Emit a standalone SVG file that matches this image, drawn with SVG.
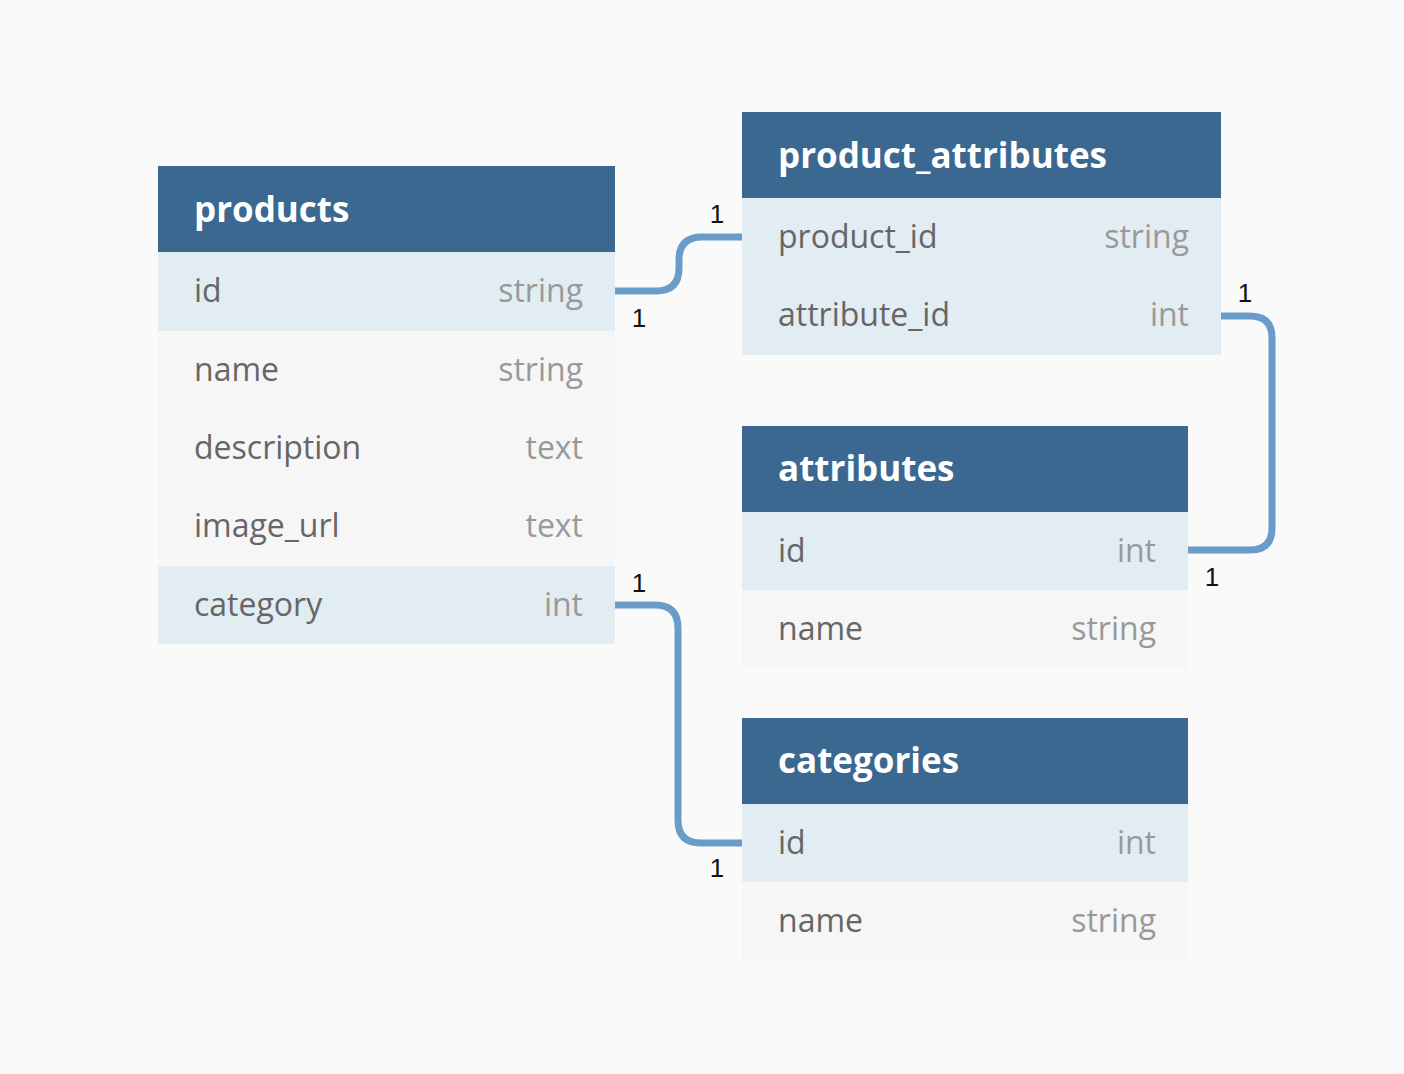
<svg xmlns="http://www.w3.org/2000/svg" width="1404" height="1074" viewBox="0 0 1404 1074">
<style>
.hdr{fill:#3a6891}
.hl{fill:#e1ecf3}
.pl{fill:#f6f6f6}
.ht{font-family:"Open Sans",sans-serif;font-weight:bold;font-size:35px;fill:#ffffff}
.fn{font-family:"Open Sans",sans-serif;font-size:32px;fill:#666666}
.ft{font-family:"Open Sans",sans-serif;font-size:32px;fill:#999999;text-anchor:end}
.conn{fill:none;stroke:#6a9cc9;stroke-width:7}
.card{font-family:"Liberation Sans",Arial,sans-serif;font-size:26px;fill:#111111;text-anchor:middle}
</style>
<rect x="0" y="0" width="1404" height="1074" fill="#fafafa"/>
<g id="connectors">
<path class="conn" d="M615 291 H656 Q679 291 679 268 V260 Q679 237 702 237 H742"/>
<path class="conn" d="M1221 316 H1250 Q1272 316 1272 338 V528 Q1272 550 1250 550 H1188"/>
<path class="conn" d="M615 605 H655 Q678 605 678 628 V820 Q678 843 701 843 H742"/>
<text class="card" x="717" y="223">1</text>
<text class="card" x="639" y="327">1</text>
<text class="card" x="1245" y="302">1</text>
<text class="card" x="1212" y="586">1</text>
<text class="card" x="639" y="592">1</text>
<text class="card" x="717" y="877">1</text>
</g>
<g id="products">
<rect class="hdr" x="158" y="166" width="457" height="86"/>
<rect class="hl" x="158" y="252" width="457" height="79"/>
<rect class="pl" x="158" y="331" width="457" height="235"/>
<rect class="hl" x="158" y="566" width="457" height="78"/>
<text class="ht" x="194" y="222">products</text>
<text class="fn" x="194" y="302">id</text><text class="ft" x="583" y="302">string</text>
<text class="fn" x="194" y="381">name</text><text class="ft" x="583" y="381">string</text>
<text class="fn" x="194" y="459">description</text><text class="ft" x="583" y="459">text</text>
<text class="fn" x="194" y="537">image_url</text><text class="ft" x="583" y="537">text</text>
<text class="fn" x="194" y="616">category</text><text class="ft" x="583" y="616">int</text>
</g>
<g id="product_attributes">
<rect class="hdr" x="742" y="112" width="479" height="86"/>
<rect class="hl" x="742" y="198" width="479" height="157"/>
<text class="ht" x="778" y="168">product_attributes</text>
<text class="fn" x="778" y="248">product_id</text><text class="ft" x="1189" y="248">string</text>
<text class="fn" x="778" y="326">attribute_id</text><text class="ft" x="1189" y="326">int</text>
</g>
<g id="attributes">
<rect class="hdr" x="742" y="426" width="446" height="86"/>
<rect class="hl" x="742" y="512" width="446" height="78"/>
<rect class="pl" x="742" y="590" width="446" height="78"/>
<text class="ht" x="778" y="481">attributes</text>
<text class="fn" x="778" y="562">id</text><text class="ft" x="1156" y="562">int</text>
<text class="fn" x="778" y="640">name</text><text class="ft" x="1156" y="640">string</text>
</g>
<g id="categories">
<rect class="hdr" x="742" y="718" width="446" height="86"/>
<rect class="hl" x="742" y="804" width="446" height="78"/>
<rect class="pl" x="742" y="882" width="446" height="78"/>
<text class="ht" x="778" y="773">categories</text>
<text class="fn" x="778" y="854">id</text><text class="ft" x="1156" y="854">int</text>
<text class="fn" x="778" y="932">name</text><text class="ft" x="1156" y="932">string</text>
</g>
</svg>
